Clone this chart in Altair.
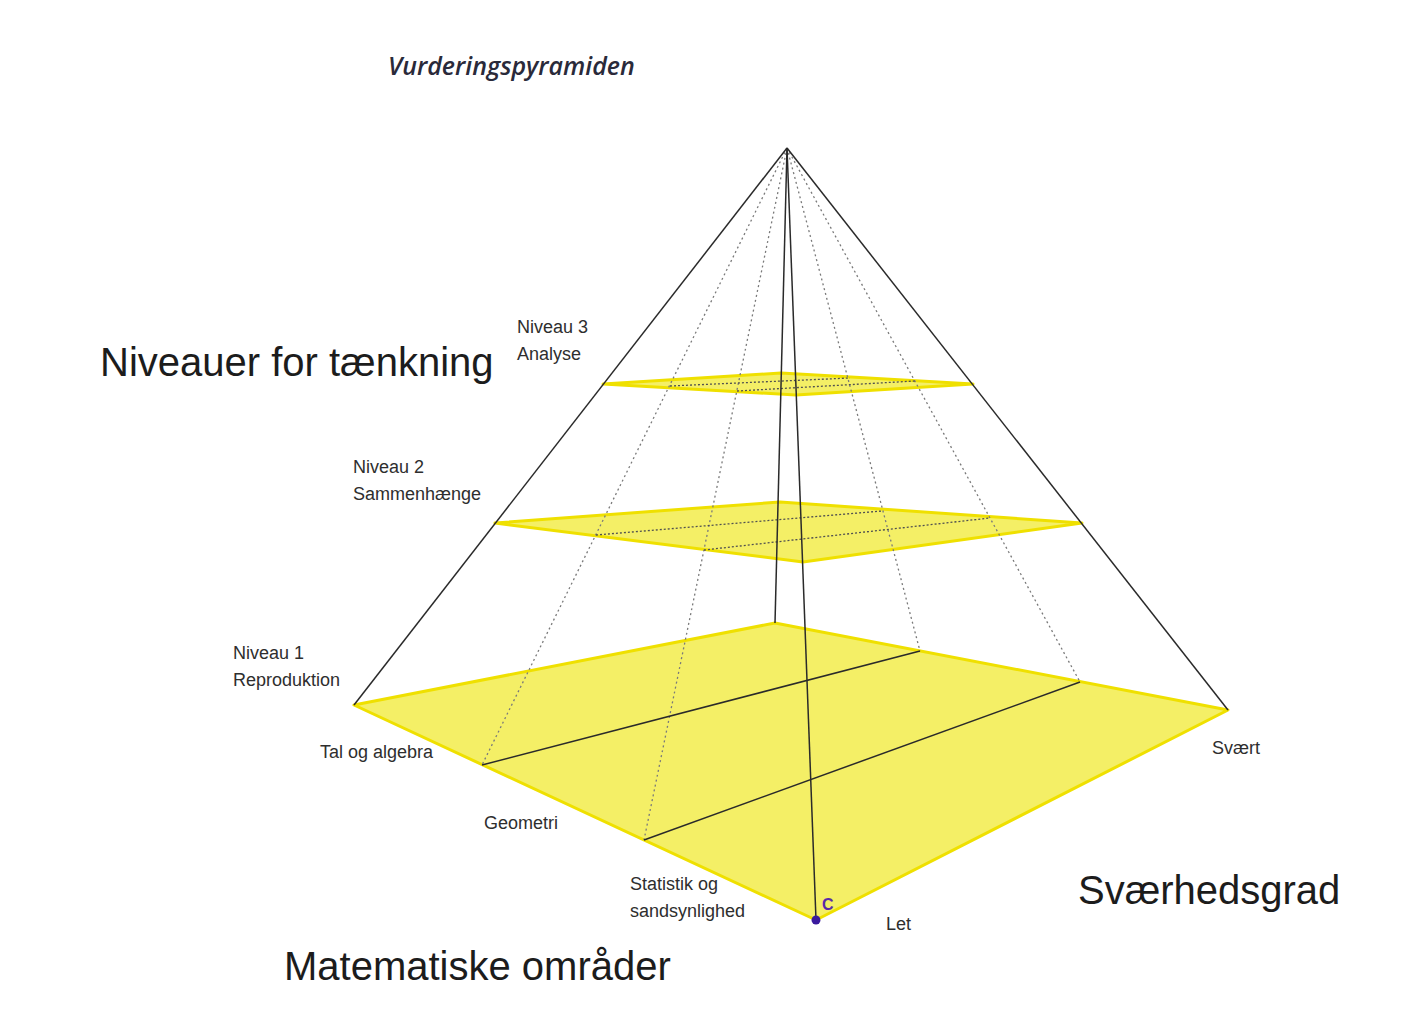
import altair as alt
import pandas as pd

# ---- geometry (page pixel coordinates) ----
# level polygons: base (Niveau 1), Niveau 2, Niveau 3
poly_id = ["base"] * 4 + ["lvl2"] * 4 + ["lvl3"] * 4
poly_order = [0, 1, 2, 3] * 3
poly_x = [354, 775, 1228, 816, 495, 780, 1082, 803, 603, 781, 973, 796]
poly_y = [705, 623, 710, 920, 523, 502, 523, 562, 384, 373, 384, 395]

# solid edges: apex->left, apex->right, apex->back, apex->front, two base dividers
solid_x1 = [787, 787, 787, 787, 482, 644]
solid_y1 = [148, 148, 148, 148, 765, 840]
solid_x2 = [354, 1228, 775, 816, 920, 1080]
solid_y2 = [705, 710, 623, 920, 651, 682]

# dotted hidden edges: apex -> divider points
dot_x1 = [787, 787, 787, 787]
dot_y1 = [148, 148, 148, 148]
dot_x2 = [482, 644, 920, 1080]
dot_y2 = [765, 840, 651, 682]

# dotted dividers drawn on Niveau 2 and Niveau 3
inner_x1 = [596, 704, 670, 737]
inner_y1 = [535, 550, 386, 391]
inner_x2 = [882, 990, 850, 915]
inner_y2 = [511, 518, 378, 381]

# point C
pt_x = [816]
pt_y = [920]
pt_label = ["C"]

# labels
small_text = ["Niveau 3", "Analyse", "Niveau 2", "Sammenhænge", "Niveau 1",
              "Reproduktion", "Tal og algebra", "Geometri", "Statistik og",
              "sandsynlighed", "Let", "Svært"]
small_x = [517, 517, 353, 353, 233, 233, 320, 484, 630, 630, 886, 1212]
small_y = [328, 355, 468, 495, 654, 681, 753, 824, 885, 912, 925, 749]

big_text = ["Niveauer for tænkning", "Matematiske områder", "Sværhedsgrad"]
big_x = [100, 284, 1078]
big_y = [364, 968, 892]

title_text = ["Vurderingspyramiden"]
title_x = [388]
title_y = [67]

# ---- chart ----
W, H = 1385, 999
xs = alt.Scale(domain=[8, 8 + W], nice=False, zero=False)
ys = alt.Scale(domain=[8, 8 + H], nice=False, zero=False, reverse=True)

polys = pd.DataFrame({"poly": poly_id, "order": poly_order, "x": poly_x, "y": poly_y})
solid = pd.DataFrame({"x": solid_x1, "y": solid_y1, "x2": solid_x2, "y2": solid_y2})
dotted = pd.DataFrame({"x": dot_x1, "y": dot_y1, "x2": dot_x2, "y2": dot_y2})
inner = pd.DataFrame({"x": inner_x1, "y": inner_y1, "x2": inner_x2, "y2": inner_y2})
pts = pd.DataFrame({"x": pt_x, "y": pt_y, "t": pt_label})
small = pd.DataFrame({"x": small_x, "y": small_y, "t": small_text})
big = pd.DataFrame({"x": big_x, "y": big_y, "t": big_text})
ttl = pd.DataFrame({"x": title_x, "y": title_y, "t": title_text})

X = alt.X("x:Q", scale=xs, axis=None)
Y = alt.Y("y:Q", scale=ys, axis=None)

poly_layer = alt.Chart(polys).mark_line(
    fill="#f4ef66", stroke="#efe000", strokeWidth=3, strokeJoin="round", interpolate="linear-closed"
).encode(x=X, y=Y, order="order:Q", detail="poly:N")

dot_layer = alt.Chart(dotted).mark_rule(
    color="#7a7a7a", strokeWidth=1.3, strokeDash=[2, 3]
).encode(x=X, y=Y, x2="x2:Q", y2="y2:Q")

inner_layer = alt.Chart(inner).mark_rule(
    color="#505050", strokeWidth=1.3, strokeDash=[2, 2]
).encode(x=X, y=Y, x2="x2:Q", y2="y2:Q")

solid_layer = alt.Chart(solid).mark_rule(
    color="#2a2a2a", strokeWidth=1.5
).encode(x=X, y=Y, x2="x2:Q", y2="y2:Q")

pt_layer = alt.Chart(pts).mark_circle(color="#3a1a9e", size=80, opacity=1).encode(x=X, y=Y)
pt_text = alt.Chart(pts).mark_text(
    color="#5a2aa8", font="Liberation Sans", fontWeight="bold", fontSize=16,
    align="left", baseline="middle", dx=6, dy=-15
).encode(x=X, y=Y, text="t:N")

small_layer = alt.Chart(small).mark_text(
    font="Liberation Sans", fontSize=18, color="#2e2e2e", align="left", baseline="middle"
).encode(x=X, y=Y, text="t:N")

big_layer = alt.Chart(big).mark_text(
    font="Liberation Sans", fontSize=40, color="#1c1c1c", align="left", baseline="middle"
).encode(x=X, y=Y, text="t:N")

title_layer = alt.Chart(ttl).mark_text(
    font="Open Sans", fontStyle="italic", fontWeight=600, fontSize=25, color="#2a2a3a",
    align="left", baseline="middle"
).encode(x=X, y=Y, text="t:N")

chart = alt.layer(
    poly_layer, dot_layer, inner_layer, solid_layer, pt_layer, pt_text,
    small_layer, big_layer, title_layer
).properties(
    width=W, height=H, autosize=alt.AutoSizeParams(type="none"), padding=0,
    background="white"
).configure_view(stroke=None)

chart.save("out.html", embed_options={"renderer": "svg", "actions": False})
